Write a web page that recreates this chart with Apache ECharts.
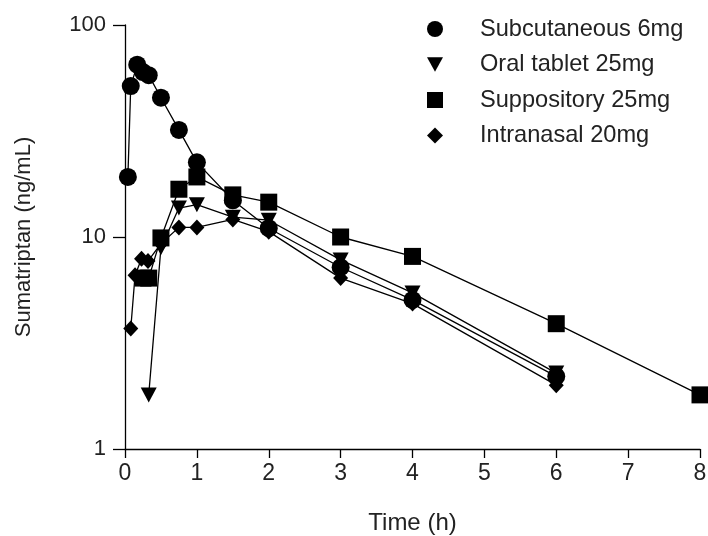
<!DOCTYPE html>
<html>
<head>
<meta charset="utf-8">
<script src="https://cdn.jsdelivr.net/npm/echarts@6/dist/echarts.min.js"></script>
<style>html,body{margin:0;padding:0;background:#fff}#c{width:708px;height:536px}</style>
</head>
<body>
<div id="c"></div>
<script>
const seriesNames = ['Subcutaneous 6mg', 'Oral tablet 25mg', 'Suppository 25mg', 'Intranasal 20mg'];
const subcutTime = [0.04, 0.08, 0.17, 0.25, 0.33, 0.5, 0.75, 1, 1.5, 2, 3, 4, 6];
const subcutConc = [19.2, 51.5, 65, 60, 58, 45.4, 32, 22.5, 14.9, 11.0, 7.2, 5.05, 2.2];
const oralTime = [0.33, 0.5, 0.75, 1, 1.5, 2, 3, 4, 6];
const oralConc = [1.8, 8.9, 13.7, 14.2, 12.4, 12.0, 7.8, 5.45, 2.28];
const suppTime = [0.25, 0.33, 0.5, 0.75, 1, 1.5, 2, 3, 4, 6, 8];
const suppConc = [6.4, 6.4, 9.9, 16.8, 19.2, 15.8, 14.6, 10.0, 8.1, 3.9, 1.8];
const nasalTime = [0.08, 0.14, 0.23, 0.32, 0.5, 0.75, 1, 1.5, 2, 3, 4, 6];
const nasalConc = [3.7, 6.6, 7.9, 7.7, 9.3, 11.1, 11.1, 12.1, 10.6, 6.4, 4.85, 2.0];
const xTicks = [0, 1, 2, 3, 4, 5, 6, 7, 8];
const yTicks = [1, 10, 100];

const downTri = 'path://M0,0 L10,0 L5,9 Z';
const symbols = ['circle', downTri, 'rect', 'diamond'];
const symSizes = [18, [16, 15], 17, [15, 16]];
const legendIcons = ['circle', downTri, 'rect', 'diamond'];
const font = 'Liberation Sans, Arial, Helvetica, sans-serif';

function pairs(t, v) { return t.map((x, i) => [x, v[i]]); }
const dataSets = [pairs(subcutTime, subcutConc), pairs(oralTime, oralConc), pairs(suppTime, suppConc), pairs(nasalTime, nasalConc)];

const chart = echarts.init(document.getElementById('c'), null, {renderer: 'canvas'});
chart.setOption({
  animation: false,
  backgroundColor: '#fff',
  grid: {left: 125, right: 8, top: 25, bottom: 87, containLabel: false, outerBoundsMode: 'none'},
  legend: {
    orient: 'vertical', left: 427, top: 17,
    itemWidth: 16, itemHeight: 16, itemGap: 11.5, padding: 0,
    data: seriesNames.map((n, i) => ({name: n, icon: legendIcons[i]})),
    textStyle: {fontFamily: font, fontSize: 23.6, color: '#222', padding: [0, 0, 0, 32]},
    itemStyle: {color: '#000'}
  },
  xAxis: {
    type: 'value', min: xTicks[0], max: xTicks[xTicks.length - 1], interval: 1,
    name: 'Time (h)', nameLocation: 'middle', nameGap: 62,
    nameTextStyle: {fontFamily: font, fontSize: 24, color: '#222'},
    axisLine: {show: true, lineStyle: {color: '#000', width: 1.3}},
    axisTick: {show: true, length: 9, lineStyle: {color: '#000', width: 1.3}},
    axisLabel: {fontFamily: font, fontSize: 23, color: '#222', margin: 13},
    splitLine: {show: false}
  },
  yAxis: {
    type: 'log', logBase: 10, min: yTicks[0], max: yTicks[yTicks.length - 1],
    name: 'Sumatriptan (ng/mL)', nameLocation: 'middle', nameGap: 90,
    nameTextStyle: {fontFamily: font, fontSize: 22, color: '#222'},
    axisLine: {show: true, lineStyle: {color: '#000', width: 1.3}},
    axisTick: {show: true, length: 12, lineStyle: {color: '#000', width: 1.3}},
    axisLabel: {fontFamily: font, fontSize: 22, color: '#222', margin: 19},
    minorTick: {show: false},
    splitLine: {show: false}
  },
  series: seriesNames.map((n, i) => ({
    name: n, type: 'line', data: dataSets[i],
    symbol: symbols[i], symbolSize: symSizes[i], showAllSymbol: true,
    lineStyle: {color: '#000', width: 1.3},
    itemStyle: {color: '#000', borderWidth: 0},
    z: 2 + i
  }))
});
</script>
</body>
</html>
